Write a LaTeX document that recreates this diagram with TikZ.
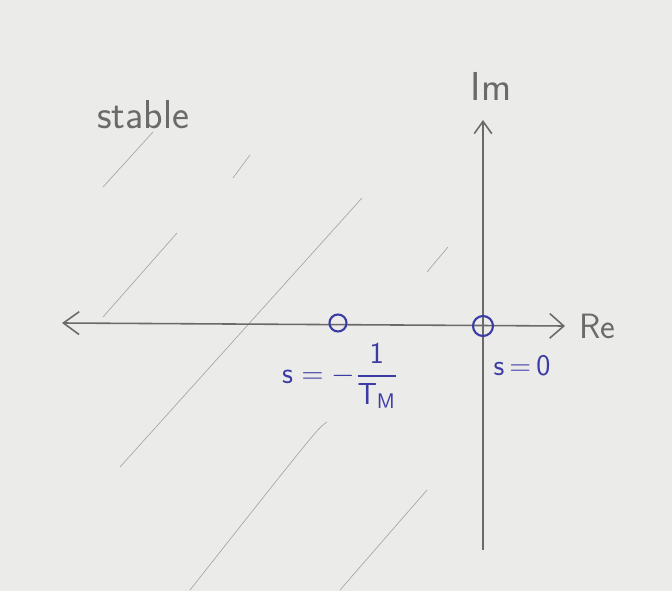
\documentclass[tikz,border=0pt]{standalone}
\usepackage{tikz}
\usetikzlibrary{arrows.meta,positioning}
\usepackage{amsmath}
\usepackage{xcolor}
\definecolor{paper}{HTML}{EBEBE9}
\definecolor{pencil}{HTML}{6A6A6A}
\definecolor{hatch}{HTML}{A2A2A2}
\definecolor{ink}{HTML}{3B3BA6}

\begin{document}
\begin{tikzpicture}[x=0.02cm, y=-0.02cm,
  axis/.style={draw=pencil,line width=0.9pt},
  hatchline/.style={draw=hatch,line width=0.35pt},
  zero/.style={draw=ink,circle,line width=1.2pt,minimum size=0.4cm,inner sep=0pt},
  penlabel/.style={text=pencil,font=\sffamily\fontsize{23}{26}\selectfont},
  inklabel/.style={text=ink,font=\sffamily\fontsize{17}{20}\selectfont},
]
  % paper
  \fill[paper] (0,0) rectangle (672,591);
  \useasboundingbox (0,0) rectangle (672,591);

  % stable region hatching
  \draw[hatchline] (153,132) -- (103,187);
  \draw[hatchline] (250,155) -- (233,178);
  \draw[hatchline] (177,233) -- (103,317);
  \draw[hatchline] (362,198) -- (120,467);
  \draw[hatchline] (448,247) -- (427,272);
  \draw[hatchline] (327,422) .. controls (318,428) .. (190,590);
  \draw[hatchline] (427,490) -- (340,590);

  % axes
  \coordinate (left) at (62,323);
  \coordinate (right) at (565,326);
  \coordinate (bottom) at (483,550);
  \coordinate (top) at (483,120);
  \draw[axis,{Straight Barb[length=9pt,width=13pt]}-{Straight Barb[length=8pt,width=14pt]}] (left) -- (right);
  \draw[axis,-{Straight Barb[length=7pt,width=10pt]}] (bottom) -- (top);
  \node[penlabel,font=\sffamily\fontsize{20}{24}\selectfont] (re) at (597,326) {Re};
  \node[penlabel] (im) at (491,86) {Im};
  \node[penlabel] (stable) at (143,115) {stable};

  % zeros
  \node[zero] (z0) at (483,326) {};
  \node[zero,minimum size=0.34cm] (z1) at (338,323) {};
  \node[inklabel] (z0lbl) at (522,366) {s\,=\,0};
  \node[inklabel] (z1lbl) at (340,376) {$\mathsf{s}=-\dfrac{\mathsf{1}}{\mathsf{T_M}}$};
\end{tikzpicture}
\end{document}
